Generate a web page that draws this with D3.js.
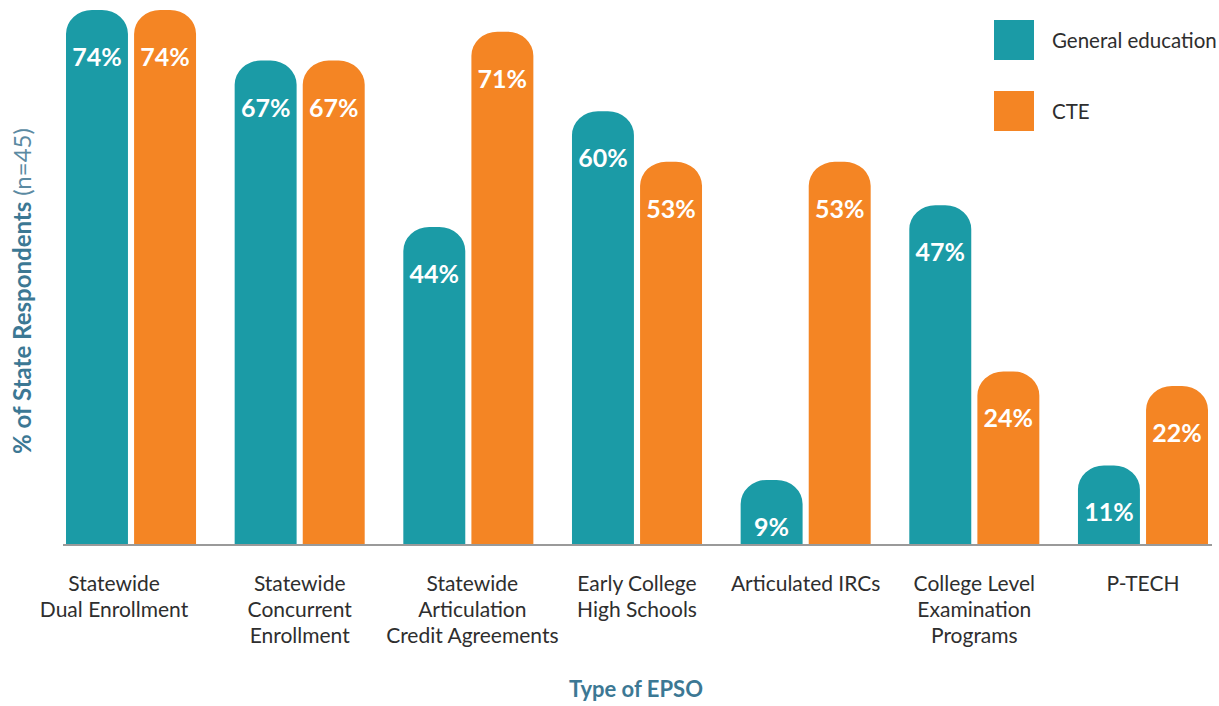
<!DOCTYPE html>
<html>
<head>
<meta charset="utf-8">
<script src="https://cdn.jsdelivr.net/npm/d3@7"></script>
<style>
  body { margin: 0; background: #fff; }
  svg { font-family: Lato, "Open Sans", sans-serif; }
</style>
</head>
<body>
<svg id="chart" width="1219" height="706"></svg>
<script>
var categories = [
    "Statewide\nDual Enrollment",
    "Statewide\nConcurrent\nEnrollment",
    "Statewide\nArticulation\nCredit Agreements",
    "Early College\nHigh Schools",
    "Articulated IRCs",
    "College Level\nExamination\nPrograms",
    "P-TECH"
];
var seriesNames = ["General education", "CTE"];
var generalEd = [74, 67, 44, 60, 9, 47, 11];
var cte = [74, 67, 71, 53, 53, 24, 22];
var colors = ["#1b9ba6", "#f48524"];

var width = 1219;
var height = 706;
var baseY = 545;

var svg = d3.select("#chart");

var x = d3.scaleBand()
    .domain(categories)
    .range([66, 1208])
    .paddingInner(0.229)
    .paddingOuter(0);

var xInner = d3.scaleBand()
    .domain(seriesNames)
    .range([0, x.bandwidth()])
    .paddingInner(0.09);

var y = d3.scaleLinear()
    .domain([0, 74])
    .range([baseY, 10]);

var color = d3.scaleOrdinal()
    .domain(seriesNames)
    .range(colors);

var rows = categories.map(function(c, i) {
    return {cat: c, values: [
        {name: seriesNames[0], value: generalEd[i]},
        {name: seriesNames[1], value: cte[i]}
    ]};
});

// bar with rounded (elliptical) top corners
function topRounded(x0, y0, w, h, rx, ry) {
    ry = Math.min(ry, h);
    return "M" + x0 + "," + (y0 + h) +
        "V" + (y0 + ry) +
        "A" + rx + "," + ry + " 0 0 1 " + (x0 + rx) + "," + y0 +
        "H" + (x0 + w - rx) +
        "A" + rx + "," + ry + " 0 0 1 " + (x0 + w) + "," + (y0 + ry) +
        "V" + (y0 + h) + "Z";
}

var groups = svg.append("g")
    .selectAll("g")
    .data(rows)
    .enter()
    .append("g")
    .attr("transform", function(d) { return "translate(" + x(d.cat) + ",0)"; });

groups.selectAll("path")
    .data(function(d) { return d.values; })
    .enter()
    .append("path")
    .attr("fill", function(d) { return color(d.name); })
    .attr("d", function(d) {
        var top = y(d.value);
        return topRounded(xInner(d.name), top, xInner.bandwidth(), baseY - top, 26, 24);
    });

groups.selectAll("text")
    .data(function(d) { return d.values; })
    .enter()
    .append("text")
    .attr("x", function(d) { return xInner(d.name) + xInner.bandwidth() / 2; })
    .attr("y", function(d) { return y(d.value) + 56; })
    .attr("text-anchor", "middle")
    .attr("fill", "#fff")
    .attr("font-size", 25)
    .attr("font-weight", "bold")
    .text(function(d) { return d.value + "%"; });

// axis
var xAxis = d3.axisBottom(x).tickSize(0).tickFormat("");
var axisG = svg.append("g")
    .attr("transform", "translate(0," + baseY + ")")
    .call(xAxis);
axisG.select(".domain")
    .attr("d", "M" + (x.range()[0] - 3) + ",0H" + (x.range()[1] + 4))
    .attr("stroke", "#9a9a9a")
    .attr("stroke-width", 2);

// category labels, first one sits a little left in the original
var labelNudge = {0: -17, 2: 4};
var catLabels = svg.append("g")
    .selectAll("text")
    .data(categories)
    .enter()
    .append("text")
    .attr("text-anchor", "middle")
    .attr("font-size", 21)
    .attr("fill", "#2e2e2e")
    .attr("transform", function(d, i) {
        return "translate(" + (x(d) + x.bandwidth() / 2 + (labelNudge[i] || 0)) + ",591)";
    });

catLabels.selectAll("tspan")
    .data(function(d) { return d.split("\n"); })
    .enter()
    .append("tspan")
    .attr("x", 0)
    .attr("dy", function(d, i) { return i === 0 ? 0 : 26; })
    .text(function(d) { return d; });

// axis titles
svg.append("text")
    .attr("x", 636)
    .attr("y", 697)
    .attr("text-anchor", "middle")
    .attr("font-size", 22)
    .attr("font-weight", "bold")
    .attr("fill", "#3c7894")
    .text("Type of EPSO");

var yTitle = svg.append("text")
    .attr("transform", "translate(31,291) rotate(-90)")
    .attr("text-anchor", "middle")
    .attr("font-size", 24)
    .attr("fill", "#3c7894");
yTitle.append("tspan").attr("font-weight", "bold").text("% of State Respondents ");
yTitle.append("tspan").attr("font-weight", "normal").attr("fill", "#5b8aa2").text("(n=45)");

// legend
var legend = svg.append("g")
    .selectAll("g")
    .data(seriesNames)
    .enter()
    .append("g")
    .attr("transform", function(d, i) { return "translate(994," + (20 + i * 71) + ")"; });

legend.append("rect")
    .attr("width", 40)
    .attr("height", 40)
    .attr("fill", function(d) { return color(d); });

legend.append("text")
    .attr("x", 58)
    .attr("y", 28)
    .attr("font-size", 20.5)
    .attr("fill", "#2e2e2e")
    .text(function(d) { return d; });
</script>
</body>
</html>
